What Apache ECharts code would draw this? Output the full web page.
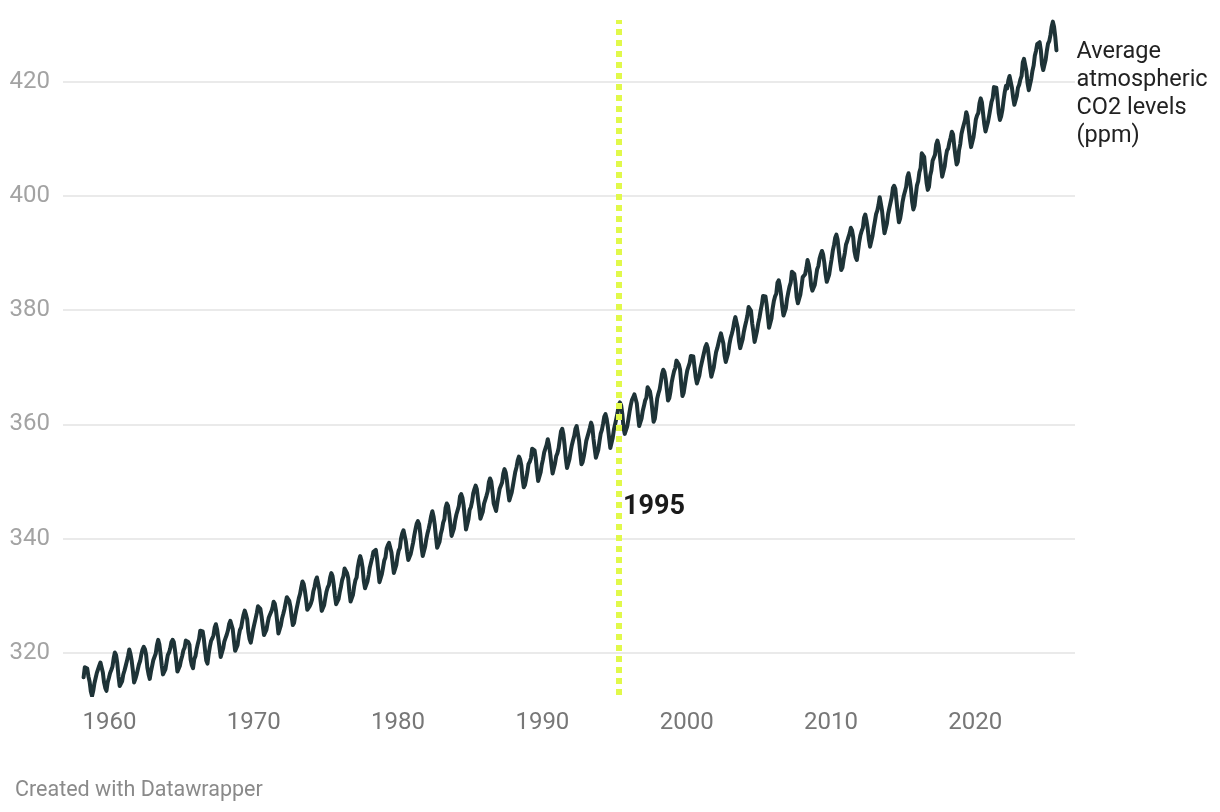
<!DOCTYPE html>
<html>
<head>
<meta charset="utf-8">
<script src="https://cdn.jsdelivr.net/npm/echarts@6/dist/echarts.min.js"></script>
<style>
html,body{margin:0;padding:0;background:#fff;}
#chart{width:1220px;height:812px;}
</style>
</head>
<body>
<div id="chart"></div>
<script>
// Monthly mean CO2 (ppm), Mauna Loa, starting March 1958
var firstYear = 1958;
var firstMonth = 3;
var co2Monthly = [
315.70,317.45,317.51,317.24,315.86,314.93,313.20,312.43,313.33,314.67,
315.58,316.48,316.65,317.72,318.29,318.15,316.54,314.80,313.84,313.33,314.81,315.58,
316.43,316.98,317.58,319.03,320.04,319.59,318.18,315.90,314.17,313.83,315.00,316.19,
316.89,317.70,318.54,319.48,320.58,319.77,318.57,316.79,314.80,315.38,316.10,317.01,
317.94,318.55,319.68,320.57,321.02,320.62,319.61,317.40,316.25,315.42,316.69,317.70,
318.74,319.07,319.86,321.38,322.25,321.48,319.74,317.77,316.21,315.99,317.07,318.35,
319.57,320.01,320.74,321.84,322.26,321.89,320.44,318.69,316.70,316.87,317.68,318.71,
319.44,320.44,320.89,322.13,322.16,321.87,321.39,318.80,317.81,317.30,318.87,319.42,
320.62,321.59,322.39,323.87,324.01,323.75,322.39,320.37,318.64,318.10,319.79,321.08,
322.07,322.50,323.04,324.42,325.00,324.09,322.54,320.92,319.25,319.39,320.73,321.96,
322.57,323.15,323.89,325.02,325.57,325.36,324.14,322.11,320.33,320.25,321.32,322.89,
324.00,324.42,325.63,326.66,327.38,326.71,325.88,323.66,322.38,321.78,322.85,324.12,
325.06,325.98,326.93,328.13,328.08,327.67,326.34,324.69,323.10,323.06,324.01,325.13,
326.17,326.68,327.17,327.79,328.93,328.57,327.36,325.43,323.36,323.56,324.80,326.01,
326.77,327.63,327.75,329.72,330.07,329.09,328.04,326.32,324.84,325.20,326.50,327.55,
328.55,329.56,330.30,331.50,332.48,332.07,330.87,329.31,327.51,327.18,328.16,328.64,
329.35,330.71,331.48,332.65,333.18,332.20,331.07,329.15,327.33,327.28,328.31,329.58,
330.73,331.46,331.90,333.17,333.94,333.45,331.98,329.95,328.50,328.36,329.38,330.62,
331.56,332.74,333.36,334.74,334.72,333.98,333.08,330.68,328.96,328.72,330.16,331.62,
332.68,333.17,334.96,336.14,336.93,336.17,334.88,332.56,331.29,331.28,332.46,333.60,
334.94,335.26,336.66,337.69,338.02,338.01,336.50,334.42,332.36,332.45,333.76,334.91,
336.14,336.69,338.27,338.82,339.24,339.26,337.54,335.72,333.97,334.24,335.32,336.81,
337.90,338.34,340.07,340.93,341.45,341.36,339.45,337.67,336.25,336.14,337.30,338.29,
339.29,340.55,341.63,342.60,343.04,342.54,340.82,338.48,336.95,337.05,338.58,339.91,
340.93,341.76,342.78,343.96,344.77,343.88,342.42,340.24,338.38,338.41,339.44,340.78,
341.57,342.79,343.37,345.40,346.14,345.76,344.32,342.51,340.46,340.53,341.79,343.20,
344.21,344.92,345.68,347.37,347.78,347.16,345.79,343.74,341.59,341.86,343.31,345.00,
345.48,346.41,347.91,348.66,349.28,348.65,346.90,345.26,343.47,343.35,344.73,346.12,
346.78,347.48,348.25,349.86,350.52,349.98,348.25,346.17,345.48,344.82,346.22,347.49,
348.73,348.92,349.81,351.40,352.15,351.58,350.21,348.20,346.66,346.72,348.08,349.28,
350.51,351.70,352.50,353.67,354.35,353.88,352.80,350.49,348.97,349.37,350.42,351.62,
353.07,353.43,354.08,355.72,355.95,355.44,354.05,351.84,350.09,350.33,351.55,352.91,
353.86,355.10,355.75,356.38,357.38,356.39,354.89,353.06,351.38,351.69,353.14,354.41,
354.93,355.82,357.33,358.77,359.23,358.23,356.30,353.97,352.34,352.43,353.89,355.21,
356.34,357.21,357.97,359.22,359.71,359.43,357.15,354.99,353.01,353.41,354.42,355.68,
357.10,357.42,358.59,359.39,360.30,359.64,357.45,355.76,354.14,354.23,355.53,357.03,
358.36,359.04,360.11,361.36,361.78,360.94,359.51,357.59,355.86,356.21,357.65,359.10,
360.04,361.00,361.98,363.44,363.83,363.33,361.78,359.33,358.32,358.14,359.61,360.82,
362.20,363.36,364.28,364.69,365.25,365.06,363.69,361.55,359.69,359.72,361.04,362.39,
363.24,364.21,364.65,366.49,366.77,365.73,364.46,362.40,360.44,360.98,362.65,364.51,
365.39,366.10,367.36,368.79,369.56,369.13,367.98,366.10,364.16,364.54,365.67,367.30,
368.35,369.28,369.84,371.15,371.12,370.46,369.61,367.06,364.95,365.52,366.88,368.26,
369.45,369.71,370.75,371.98,371.75,371.87,370.02,368.27,367.15,367.18,368.53,369.83,
370.76,371.69,372.63,373.55,374.03,373.40,371.68,369.78,368.34,368.61,369.94,371.42,
372.70,373.37,374.30,375.19,375.93,375.69,374.16,372.03,370.92,370.73,372.43,373.98,
375.07,375.82,376.64,377.92,378.78,378.46,376.88,374.57,373.34,373.31,374.84,376.17,
377.17,378.05,379.06,380.54,380.80,379.87,377.65,376.17,374.43,374.63,376.33,377.68,
378.63,379.91,380.95,382.48,382.64,382.40,380.93,378.93,376.89,377.19,378.54,380.31,
381.58,382.40,382.86,384.80,385.22,384.24,382.65,380.60,379.04,379.33,380.35,382.02,
383.10,384.12,384.81,386.73,386.78,386.33,384.73,382.24,381.20,381.37,382.70,384.19,
385.78,386.06,386.28,387.33,388.78,387.99,386.61,384.32,383.41,383.21,384.41,385.79,
387.17,387.70,389.04,389.76,390.36,389.70,388.24,386.29,384.95,384.64,386.23,387.63,
388.91,390.41,391.37,392.67,393.21,392.38,390.41,388.54,387.03,387.43,388.87,389.99,
391.50,392.05,392.80,393.44,394.41,393.95,392.72,390.33,389.28,388.78,390.37,391.95,
393.12,393.86,394.40,396.18,396.74,395.71,394.36,392.39,391.11,391.05,392.98,394.34,
395.55,396.80,397.43,398.41,399.78,398.61,397.32,395.20,393.45,393.70,395.16,396.84,
397.85,398.01,399.77,401.38,401.78,401.25,399.10,397.03,395.38,396.03,397.28,398.91,
399.98,400.28,401.54,403.28,403.96,402.80,401.31,398.93,397.63,398.29,400.16,401.85,
402.56,404.12,404.87,407.45,407.72,406.83,404.41,402.27,401.05,401.59,403.55,404.45,
406.17,406.46,407.22,409.04,409.69,408.88,407.12,405.13,403.37,403.63,405.12,406.81,
407.96,408.32,409.41,410.24,411.24,410.79,408.71,406.99,405.51,406.00,408.02,409.07,
410.83,411.75,411.97,413.32,414.66,413.92,411.77,409.95,408.54,408.53,410.27,411.76,
413.40,414.11,414.51,416.21,417.07,416.39,414.38,412.55,411.29,411.28,412.89,414.02,
415.23,416.45,417.14,419.05,419.13,418.94,416.96,414.47,413.30,413.93,415.01,416.71,
418.19,419.28,418.81,420.23,420.99,420.99,418.90,417.19,415.95,415.78,417.51,418.95,
419.47,420.41,420.99,423.36,424.00,423.68,421.83,419.68,418.51,418.82,420.46,421.86,
422.80,424.55,425.38,426.57,426.90,426.91,425.55,422.99,422.03,422.38,423.85,425.40,
426.65,427.09,428.15,429.64,430.51,429.61,427.87,425.48
];
var seriesName = 'Average\natmospheric\nCO2 levels\n(ppm)';
var highlightYear = 1995.31;
var highlightLabel = '1995';
var highlightLabelValue = 345.5;
var footerText = 'Created with Datawrapper';

var lineData = co2Monthly.map(function (v, i) {
  var m = firstMonth - 1 + i;
  var year = firstYear + Math.floor(m / 12);
  var month = (m % 12) + 1;
  return [year + (month - 0.5) / 12, v];
});

var chart = echarts.init(document.getElementById('chart'));
chart.setOption({
  animation: false,
  backgroundColor: '#ffffff',
  textStyle: { fontFamily: 'Roboto' },
  title: {
    text: footerText,
    left: 10,
    top: 775,
    textStyle: { fontFamily: 'Roboto', fontSize: 21.5, fontWeight: 'normal', color: '#8a8a8a' }
  },
  grid: { left: 63, right: 145, top: 20, bottom: 117, containLabel: false },
  xAxis: {
    type: 'value',
    min: 1956.78,
    max: 2026.91,
    splitNumber: 7,
    axisLine: { show: false },
    axisTick: { show: false },
    splitLine: { show: false },
    axisLabel: {
      showMinLabel: false,
      showMaxLabel: false,
      fontFamily: 'Roboto',
      fontSize: 24,
      color: '#777777',
      margin: 16,
      formatter: function (v) { return String(Math.round(v)); }
    }
  },
  yAxis: {
    type: 'value',
    min: 312.6,
    max: 430.8,
    splitNumber: 5,
    axisLine: { show: false },
    axisTick: { show: false },
    splitLine: { show: true, showMinLine: false, showMaxLine: false, lineStyle: { color: '#e3e3e3', width: 1.5 } },
    axisLabel: {
      showMinLabel: false,
      showMaxLabel: false,
      fontFamily: 'Roboto',
      fontSize: 24,
      color: '#a3a3a3',
      margin: 13
    }
  },
  series: [
    {
      name: seriesName,
      type: 'line',
      data: lineData,
      showSymbol: false,
      symbol: 'none',
      smooth: false,
      lineStyle: { color: '#1e3337', width: 4, join: 'round', cap: 'round' },
      endLabel: {
        show: true,
        formatter: seriesName,
        distance: 20,
        verticalAlign: 'top',
        align: 'left',
        offset: [0, -12],
        fontFamily: 'Roboto',
        fontSize: 23.5,
        lineHeight: 28,
        color: '#222222'
      },
      z: 3
    },
    {
      type: 'scatter',
      data: [[highlightYear, highlightLabelValue]],
      symbolSize: 0,
      silent: true,
      itemStyle: { opacity: 1 },
      label: {
        show: true,
        position: 'right',
        distance: 4,
        formatter: highlightLabel,
        fontFamily: 'Roboto',
        fontSize: 27,
        fontWeight: 'bold',
        color: '#1a1a1a'
      },
      markLine: {
        silent: true,
        symbol: 'none',
        label: { show: false },
        lineStyle: { color: '#e1f94a', width: 6, type: [6, 5], opacity: 1 },
        data: [{ xAxis: highlightYear }]
      },
      z: 6
    }
  ]
});
</script>
</body>
</html>
